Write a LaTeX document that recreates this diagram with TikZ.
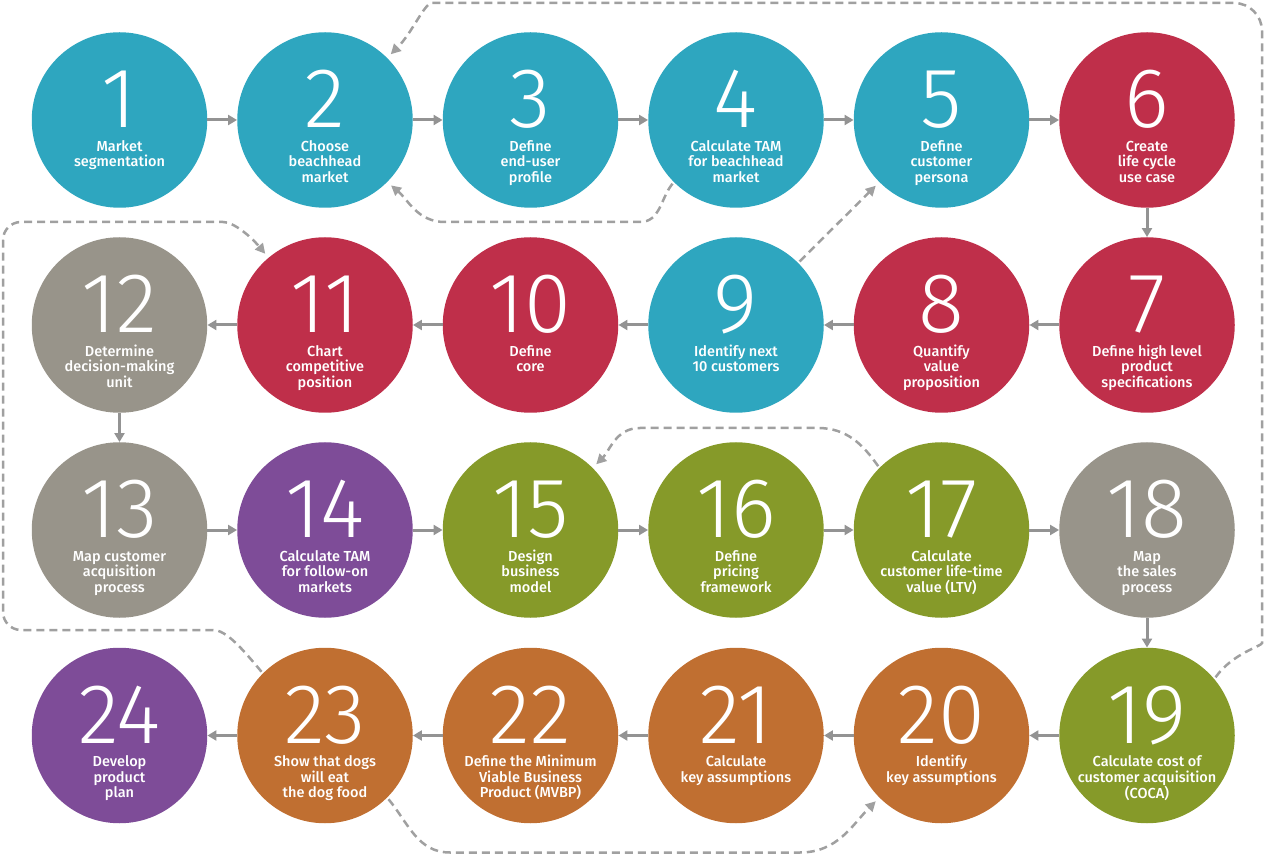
\documentclass[tikz,border=0pt]{standalone}
\usepackage{fontspec}
\usetikzlibrary{arrows.meta}
\newfontfamily\lblfont{Fira Sans Medium}
\newfontfamily\numfont{Fira Sans Light}
\definecolor{cteal}{HTML}{2EA6BF}
\definecolor{cred}{HTML}{BF2F4A}
\definecolor{cgray}{HTML}{98948A}
\definecolor{cpurple}{HTML}{7E4C98}
\definecolor{cgreen}{HTML}{869A29}
\definecolor{corange}{HTML}{C06F31}
\definecolor{arrowgray}{HTML}{939393}
\definecolor{dashgray}{HTML}{A0A0A0}
\newcommand\bignum[1]{{\numfont\fontsize{85}{85}\selectfont\rule[-11pt]{0pt}{73pt}#1}}
\newcommand\firstline{\rule{0pt}{11.5pt}}
\begin{document}
\begin{tikzpicture}[x=1pt,y=1pt,
  stepcirc/.style={circle,fill=#1,minimum size=175.5pt,inner sep=0pt},
  steptxt/.style={anchor=north,text=white,inner sep=0pt,align=center,
    font=\lblfont\fontsize{14.5}{15.5}\selectfont},
  flow/.style={draw=arrowgray,line width=3pt,-{Triangle[length=9pt,width=10pt]}},
  loopline/.style={draw=dashgray,line width=2.5pt,dash pattern=on 8pt off 5pt,
    -{Triangle[length=10pt,width=10pt]},shorten >=5pt,shorten <=2pt}]
\useasboundingbox (0,0) rectangle (1266,855);
\foreach \n/\x/\y/\c/\t in {
  1/119.5/735/cteal/{Market\\segmentation},
  2/325/735/cteal/{Choose\\beachhead\\market},
  3/530.5/735/cteal/{Define\\end-user\\profile},
  4/736/735/cteal/{Calculate TAM\\for beachhead\\market},
  5/941.5/735/cteal/{Define\\customer\\persona},
  6/1147/735/cred/{Create\\life cycle\\use case},
  12/119.5/530/cgray/{Determine\\decision-making\\unit},
  11/325/530/cred/{Chart\\competitive\\position},
  10/530.5/530/cred/{Define\\core},
  9/736/530/cteal/{Identify next\\10 customers},
  8/941.5/530/cred/{Quantify\\value\\proposition},
  7/1147/530/cred/{Define high level\\product\\specifications},
  13/119.5/325/cgray/{Map customer\\acquisition\\process},
  14/325/325/cpurple/{Calculate TAM\\for follow-on\\markets},
  15/530.5/325/cgreen/{Design\\business\\model},
  16/736/325/cgreen/{Define\\pricing\\framework},
  17/941.5/325/cgreen/{Calculate\\customer life-time\\value (LTV)},
  18/1147/325/cgray/{Map\\the sales\\process},
  24/119.5/119.5/cpurple/{Develop\\product\\plan},
  23/325/119.5/corange/{Show that dogs\\will eat\\the dog food},
  22/530.5/119.5/corange/{Define the Minimum\\Viable Business\\Product (MVBP)},
  21/736/119.5/corange/{Calculate\\key assumptions},
  20/941.5/119.5/corange/{Identify\\key assumptions},
  19/1147/119.5/cgreen/{Calculate cost of\\customer acquisition\\(COCA)}}
{
  \node[stepcirc=\c] (c\n) at (\x,\y) {};
  \node[steptxt] (t\n) at (\x,\y+54.5) {\bignum{\n}\\\firstline\t};
}
% solid flow arrows
\foreach \a/\b in {1/2,2/3,3/4,4/5,5/6,6/7,7/8,8/9,9/10,10/11,11/12,12/13,
  13/14,14/15,15/16,16/17,17/18,18/19,19/20,20/21,21/22,22/23,23/24}
  \draw[flow] (c\a) -- (c\b);
% dashed loops
\draw[loopline,rounded corners=28pt] (c19.40) to[out=55,in=-90] (1262,240)
  -- (1262,852) -- (460,852) to[out=180,in=45] (c2.45);
\draw[loopline] (c4.225) to[out=230,in=0] (640,633) -- (445,633)
  to[out=180,in=-40] (c2.-45);
\draw[loopline] (c9.45) -- (c5.225);
\draw[loopline,rounded corners=18pt] (c23.135) to[out=130,in=0] (195,225)
  -- (3,225) -- (3,633) -- (205,633) to[out=0,in=130] (c11.130);
\draw[loopline] (c17.135) to[out=125,in=0] (818,427) -- (640,427)
  to[out=180,in=45] (c15.45);
\draw[loopline] (c23.-45) to[out=-50,in=180] (450,2.5) -- (800,2.5)
  to[out=0,in=225] (c20.225);
\end{tikzpicture}
\end{document}
